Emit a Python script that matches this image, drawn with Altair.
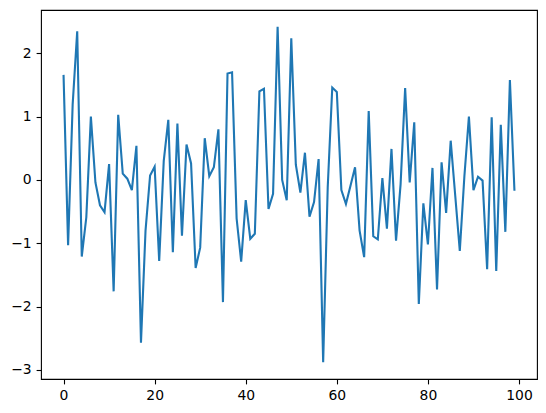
import altair as alt
import pandas as pd

values = [
    1.66, -1.03, 1.19, 2.35, -1.21, -0.59, 1.00, -0.04, -0.40, -0.51,
    0.25, -1.76, 1.03, 0.10, 0.02, -0.16, 0.54, -2.57, -0.80, 0.07,
    0.21, -1.28, 0.30, 0.95, -1.14, 0.89, -0.88, 0.56, 0.26, -1.39,
    -1.07, 0.66, 0.06, 0.20, 0.80, -1.93, 1.68, 1.70, -0.61, -1.29,
    -0.32, -0.93, -0.85, 1.40, 1.44, -0.46, -0.22, 2.42, 0.00, -0.32,
    2.24, 0.24, -0.20, 0.43, -0.58, -0.35, 0.33, -2.88, -0.12, 1.46,
    1.39, -0.16, -0.38, -0.09, 0.20, -0.80, -1.22, 1.09, -0.89, -0.94,
    0.03, -0.77, 0.49, -0.96, -0.07, 1.45, -0.04, 0.91, -1.96, -0.37,
    -1.02, 0.19, -1.73, 0.28, -0.52, 0.62, -0.25, -1.12, 0.05, 1.00,
    -0.16, 0.05, -0.01, -1.41, 0.99, -1.44, 0.87, -0.82, 1.58, -0.17,
]
index = list(range(len(values)))
x_ticks = [0, 20, 40, 60, 80, 100]
y_ticks = [-3, -2, -1, 0, 1, 2]

df = pd.DataFrame({"i": index, "v": values})

# matplotlib-like 5% margins
xlo, xhi = min(index), max(index)
xm = 0.05 * (xhi - xlo)
ylo, yhi = min(values), max(values)
ym = 0.05 * (yhi - ylo)

axis_common = dict(
    title=None,
    grid=False,
    domain=False,
    labelFont="DejaVu Sans",
    labelFontSize=13.9,
    labelColor="black",
    tickColor="black",
    tickWidth=1.1,
    tickSize=4.9,
    labelPadding=4.9,
    labelFlush=False,
    labelOverlap=False,
)

chart = alt.Chart(df).mark_line(color="#1f77b4", strokeWidth=2.1).encode(
    x=alt.X("i:Q",
            scale=alt.Scale(domain=[xlo - xm, xhi + xm], nice=False, zero=False),
            axis=alt.Axis(values=x_ticks, format="d", **axis_common)),
    y=alt.Y("v:Q",
            scale=alt.Scale(domain=[ylo - ym, yhi + ym], nice=False, zero=False),
            axis=alt.Axis(values=y_ticks, format="d", **axis_common)),
).properties(
    width=496,
    height=369,
    padding={"left": 33, "top": 2, "right": 1, "bottom": 26},
    autosize=alt.AutoSizeParams(type="none"),
    background="white",
).configure_view(
    stroke="black",
    strokeWidth=1.1,
)

chart.save("out.html", embed_options={"renderer": "svg", "actions": False})
